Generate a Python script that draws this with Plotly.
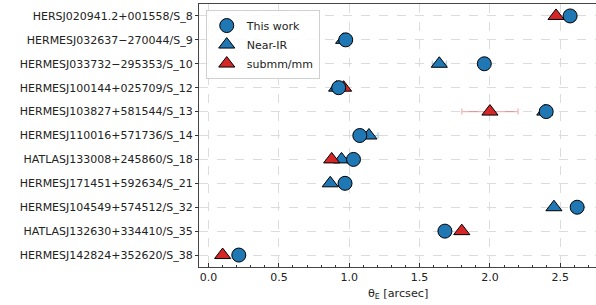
import plotly.graph_objects as go

categories = ["HERSJ020941.2+001558/S_8", "HERMESJ032637\u2212270044/S_9",
              "HERMESJ033732\u2212295353/S_10", "HERMESJ100144+025709/S_12",
              "HERMESJ103827+581544/S_13", "HERMESJ110016+571736/S_14",
              "HATLASJ133008+245860/S_18", "HERMESJ171451+592634/S_21",
              "HERMESJ104549+574512/S_32", "HATLASJ132630+334410/S_35",
              "HERMESJ142824+352620/S_38"]

this_work = [2.57, 0.975, 1.96, 0.925, 2.40, 1.075, 1.03, 0.97, 2.62, 1.68, 0.215]

nir_cats = ["HERMESJ032637\u2212270044/S_9", "HERMESJ033732\u2212295353/S_10",
            "HERMESJ100144+025709/S_12", "HERMESJ103827+581544/S_13",
            "HERMESJ110016+571736/S_14", "HATLASJ133008+245860/S_18",
            "HERMESJ171451+592634/S_21", "HERMESJ104549+574512/S_32"]
nir_vals = [0.96, 1.64, 0.91, 2.39, 1.14, 0.945, 0.865, 2.455]
nir_err = [0.01, 0.05, 0.01, 0.01, 0.065, 0.01, 0.02, 0.01]

sub_cats = ["HERSJ020941.2+001558/S_8", "HERMESJ100144+025709/S_12",
            "HERMESJ103827+581544/S_13", "HATLASJ133008+245860/S_18",
            "HATLASJ132630+334410/S_35", "HERMESJ142824+352620/S_38"]
sub_vals = [2.47, 0.96, 2.0, 0.875, 1.80, 0.10]
sub_err = [0.01, 0.01, 0.2, 0.01, 0.01, 0.01]

x_title = "\u03b8<sub>E</sub> [arcsec]"

blue = "#1f77b4"
red = "#d62728"
FONT = "DejaVu Sans"

fig = go.Figure()
fig.add_trace(go.Scatter(
    x=nir_vals, y=nir_cats, mode="markers", name="Near-IR", legendrank=2,
    marker=dict(symbol="triangle-up", size=14, color=blue, line=dict(color="black", width=1)),
    error_x=dict(type="data", array=nir_err, color="rgba(31,119,180,0.4)", thickness=1.2, width=3)))
fig.add_trace(go.Scatter(
    x=sub_vals, y=sub_cats, mode="markers", name="submm/mm", legendrank=3,
    marker=dict(symbol="triangle-up", size=14, color=red, line=dict(color="black", width=1)),
    error_x=dict(type="data", array=sub_err, color="rgba(214,39,40,0.35)", thickness=1.2, width=3)))
fig.add_trace(go.Scatter(
    x=this_work, y=categories, mode="markers", name="This work", legendrank=1,
    marker=dict(symbol="circle", size=14, color=blue, line=dict(color="black", width=1))))

fig.update_layout(
    width=596, height=305,
    margin=dict(l=199, r=0, t=4, b=38, autoexpand=False),
    paper_bgcolor="white", plot_bgcolor="white",
    font=dict(family=FONT, size=11, color="#222"),
    legend=dict(x=0.017, y=0.977, xanchor="left", yanchor="top",
                bgcolor="rgba(255,255,255,0.85)", bordercolor="#d0d0d0", borderwidth=1,
                font=dict(size=11), tracegroupgap=0, itemwidth=30),
    showlegend=True,
    annotations=[dict(text=x_title, xref="paper", yref="paper", x=0.5, y=-0.103,
                      xanchor="center", yanchor="middle", showarrow=False,
                      font=dict(size=11.2, family=FONT, color="#222"))],
)
fig.update_xaxes(
    range=[-0.068, 2.754], tickvals=[0, 0.5, 1.0, 1.5, 2.0, 2.5],
    ticktext=["0.0", "0.5", "1.0", "1.5", "2.0", "2.5"],
    ticks="inside", ticklen=4, tickcolor="#333", automargin=False,
    minor=dict(dtick=0.1, tick0=0, ticks="inside", ticklen=2, tickcolor="#333", showgrid=False),
    showline=True, linecolor="#444", linewidth=1.2, mirror=True,
    showgrid=True, gridcolor="#dcdcdc", griddash="dash", gridwidth=1,
    zeroline=False,
)
fig.update_yaxes(
    type="category", categoryorder="array", categoryarray=categories,
    range=[10.5, -0.5], automargin=False,
    ticks="outside", ticklen=3, tickcolor="#333",
    showline=True, linecolor="#444", linewidth=1.2, mirror=False,
    showgrid=True, gridcolor="#dcdcdc", griddash="dash", gridwidth=1,
    zeroline=False,
)

fig.write_html("out.html", config={"displayModeBar": False},
               post_script="document.body.style.margin='0px';document.body.style.overflow='hidden';")
